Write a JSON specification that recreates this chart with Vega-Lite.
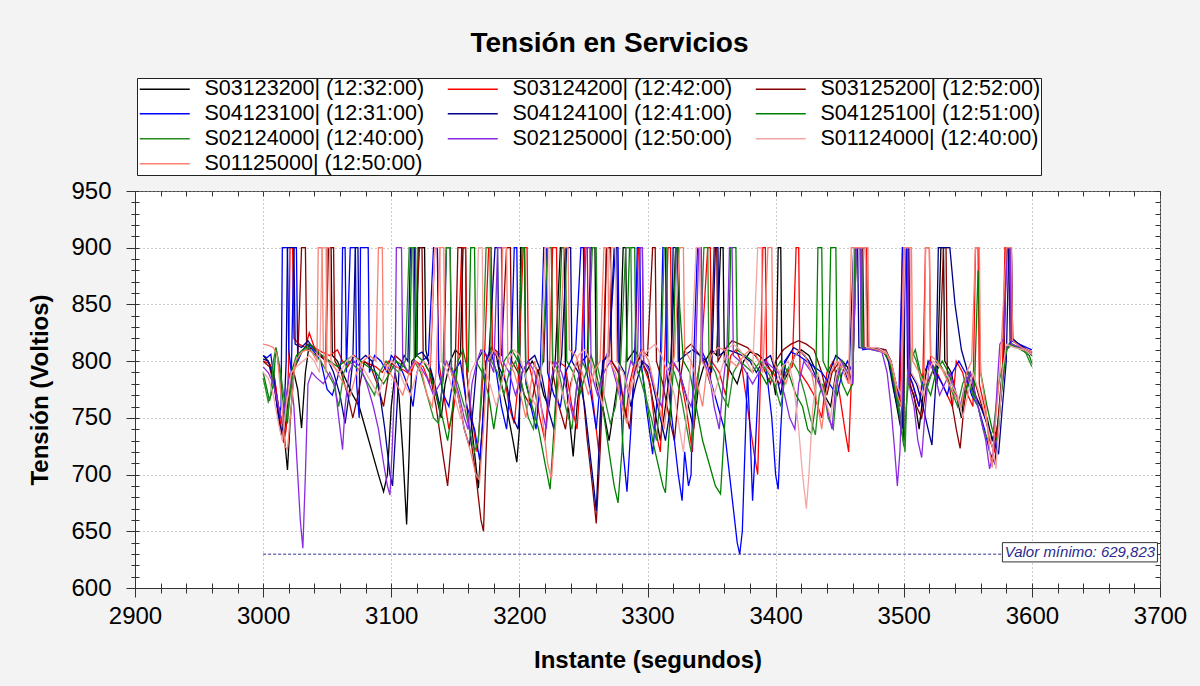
{
  "$schema": "https://vega.github.io/schema/vega-lite/v6.json",
  "width": 1025,
  "height": 397,
  "autosize": {"type": "none"},
  "padding": {"left": 135, "top": 191, "right": 40, "bottom": 98},
  "background": "#f3f3f3",
  "config": {
    "font": "Liberation Sans",
    "view": {"fill": "white", "stroke": "#444", "strokeWidth": 1}
  },
  "title": {
    "text": "Tensión en Servicios",
    "fontSize": 28,
    "fontWeight": "bold",
    "color": "#000",
    "anchor": "middle",
    "dx": -38,
    "offset": 20
  },
  "datasets": {
    "series": [
      {"k": "a", "serie": "S03123200| (12:32:00)"},
      {"k": "b", "serie": "S03124200| (12:42:00)"},
      {"k": "c", "serie": "S03125200| (12:52:00)"},
      {"k": "d", "serie": "S04123100| (12:31:00)"},
      {"k": "e", "serie": "S04124100| (12:41:00)"},
      {"k": "f", "serie": "S04125100| (12:51:00)"},
      {"k": "g", "serie": "S02124000| (12:40:00)"},
      {"k": "h", "serie": "S02125000| (12:50:00)"},
      {"k": "i", "serie": "S01124000| (12:40:00)"},
      {"k": "j", "serie": "S01125000| (12:50:00)"}
    ],
    "minimo": [
      {"v": 629.823, "label": "Valor mínimo: 629,823"}
    ],
    "points": [
      {"k":"a","t":3000,"v":805},{"k":"a","t":3004,"v":800},{"k":"a","t":3008,"v":790},{"k":"a","t":3012,"v":760},{"k":"a","t":3016,"v":740},{"k":"a","t":3019,"v":704},{"k":"a","t":3021,"v":745},{"k":"a","t":3024,"v":790},{"k":"a","t":3027,"v":775},{"k":"a","t":3030,"v":741},
      {"k":"a","t":3033,"v":790},{"k":"a","t":3036,"v":815},{"k":"a","t":3040,"v":812},{"k":"a","t":3045,"v":805},{"k":"a","t":3049,"v":800},{"k":"a","t":3050,"v":900},{"k":"a","t":3053,"v":900},{"k":"a","t":3054,"v":805},{"k":"a","t":3058,"v":800},{"k":"a","t":3062,"v":790},
      {"k":"a","t":3066,"v":780},{"k":"a","t":3070,"v":770},{"k":"a","t":3075,"v":760},{"k":"a","t":3080,"v":740},{"k":"a","t":3085,"v":720},{"k":"a","t":3090,"v":700},{"k":"a","t":3094,"v":685},{"k":"a","t":3097,"v":700},{"k":"a","t":3100,"v":760},{"k":"a","t":3103,"v":790},
      {"k":"a","t":3106,"v":770},{"k":"a","t":3109,"v":720},{"k":"a","t":3112,"v":656},{"k":"a","t":3114,"v":720},{"k":"a","t":3116,"v":800},{"k":"a","t":3120,"v":805},{"k":"a","t":3121,"v":900},{"k":"a","t":3126,"v":900},{"k":"a","t":3127,"v":810},{"k":"a","t":3131,"v":790},
      {"k":"a","t":3135,"v":770},{"k":"a","t":3139,"v":750},{"k":"a","t":3142,"v":780},{"k":"a","t":3146,"v":800},{"k":"a","t":3150,"v":810},{"k":"a","t":3154,"v":805},{"k":"a","t":3156,"v":900},{"k":"a","t":3158,"v":900},{"k":"a","t":3159,"v":790},{"k":"a","t":3163,"v":740},
      {"k":"a","t":3168,"v":688},{"k":"a","t":3171,"v":740},{"k":"a","t":3174,"v":800},{"k":"a","t":3178,"v":812},{"k":"a","t":3182,"v":805},{"k":"a","t":3186,"v":780},{"k":"a","t":3190,"v":760},{"k":"a","t":3195,"v":730},{"k":"a","t":3198,"v":711},{"k":"a","t":3200,"v":740},
      {"k":"a","t":3201,"v":900},{"k":"a","t":3204,"v":900},{"k":"a","t":3205,"v":790},{"k":"a","t":3210,"v":800},{"k":"a","t":3215,"v":790},{"k":"a","t":3219,"v":770},{"k":"a","t":3223,"v":760},{"k":"a","t":3228,"v":800},{"k":"a","t":3232,"v":900},{"k":"a","t":3235,"v":900},
      {"k":"a","t":3236,"v":790},{"k":"a","t":3239,"v":750},{"k":"a","t":3242,"v":716},{"k":"a","t":3245,"v":760},{"k":"a","t":3249,"v":800},{"k":"a","t":3253,"v":805},{"k":"a","t":3256,"v":900},{"k":"a","t":3259,"v":900},{"k":"a","t":3260,"v":780},{"k":"a","t":3265,"v":760},
      {"k":"a","t":3270,"v":730},{"k":"a","t":3274,"v":760},{"k":"a","t":3278,"v":790},{"k":"a","t":3281,"v":900},{"k":"a","t":3283,"v":900},{"k":"a","t":3284,"v":800},{"k":"a","t":3290,"v":810},{"k":"a","t":3295,"v":800},{"k":"a","t":3300,"v":790},{"k":"a","t":3305,"v":760},
      {"k":"a","t":3310,"v":730},{"k":"a","t":3314,"v":760},{"k":"a","t":3318,"v":795},{"k":"a","t":3322,"v":900},{"k":"a","t":3324,"v":900},{"k":"a","t":3325,"v":790},{"k":"a","t":3330,"v":770},{"k":"a","t":3336,"v":740},{"k":"a","t":3340,"v":780},{"k":"a","t":3345,"v":800},
      {"k":"a","t":3350,"v":810},{"k":"a","t":3354,"v":805},{"k":"a","t":3357,"v":900},{"k":"a","t":3359,"v":900},{"k":"a","t":3360,"v":800},{"k":"a","t":3365,"v":790},{"k":"a","t":3370,"v":780},{"k":"a","t":3375,"v":800},{"k":"a","t":3380,"v":808},{"k":"a","t":3386,"v":806},
      {"k":"a","t":3392,"v":800},{"k":"a","t":3397,"v":790},{"k":"a","t":3400,"v":770},{"k":"a","t":3402,"v":900},{"k":"a","t":3404,"v":900},{"k":"a","t":3405,"v":780},{"k":"a","t":3410,"v":790},{"k":"a","t":3415,"v":805},{"k":"a","t":3420,"v":810},{"k":"a","t":3426,"v":805},
      {"k":"a","t":3432,"v":790},{"k":"a","t":3438,"v":770},{"k":"a","t":3443,"v":760},{"k":"a","t":3447,"v":790},{"k":"a","t":3452,"v":800},{"k":"a","t":3456,"v":795},{"k":"a","t":3460,"v":780},{"k":"a","t":3462,"v":900},{"k":"a","t":3470,"v":900},{"k":"a","t":3472,"v":812},
      {"k":"a","t":3480,"v":810},{"k":"a","t":3485,"v":808},{"k":"a","t":3489,"v":800},{"k":"a","t":3493,"v":770},{"k":"a","t":3497,"v":745},{"k":"a","t":3500,"v":730},{"k":"a","t":3501,"v":900},{"k":"a","t":3503,"v":900},{"k":"a","t":3504,"v":780},{"k":"a","t":3508,"v":770},
      {"k":"a","t":3512,"v":740},{"k":"a","t":3516,"v":780},{"k":"a","t":3519,"v":800},{"k":"a","t":3522,"v":795},{"k":"a","t":3526,"v":780},{"k":"a","t":3529,"v":900},{"k":"a","t":3531,"v":900},{"k":"a","t":3532,"v":800},{"k":"a","t":3537,"v":790},{"k":"a","t":3541,"v":770},
      {"k":"a","t":3545,"v":750},{"k":"a","t":3548,"v":780},{"k":"a","t":3552,"v":790},{"k":"a","t":3556,"v":770},{"k":"a","t":3560,"v":760},{"k":"a","t":3565,"v":750},{"k":"a","t":3569,"v":730},{"k":"a","t":3573,"v":740},{"k":"a","t":3576,"v":780},{"k":"a","t":3578,"v":800},
      {"k":"a","t":3580,"v":900},{"k":"a","t":3583,"v":900},{"k":"a","t":3584,"v":820},{"k":"a","t":3590,"v":815},{"k":"a","t":3596,"v":810},{"k":"a","t":3600,"v":805},

      {"k":"b","t":3000,"v":800},{"k":"b","t":3005,"v":798},{"k":"b","t":3009,"v":785},{"k":"b","t":3013,"v":750},{"k":"b","t":3016,"v":728},{"k":"b","t":3018,"v":740},{"k":"b","t":3020,"v":800},{"k":"b","t":3021,"v":900},{"k":"b","t":3023,"v":900},{"k":"b","t":3024,"v":820},
      {"k":"b","t":3028,"v":815},{"k":"b","t":3033,"v":812},{"k":"b","t":3036,"v":825},{"k":"b","t":3040,"v":812},{"k":"b","t":3046,"v":808},{"k":"b","t":3052,"v":805},{"k":"b","t":3058,"v":810},{"k":"b","t":3062,"v":800},{"k":"b","t":3066,"v":795},{"k":"b","t":3071,"v":805},
      {"k":"b","t":3076,"v":800},{"k":"b","t":3082,"v":798},{"k":"b","t":3088,"v":795},{"k":"b","t":3093,"v":790},{"k":"b","t":3098,"v":800},{"k":"b","t":3104,"v":795},{"k":"b","t":3110,"v":792},{"k":"b","t":3115,"v":788},{"k":"b","t":3119,"v":800},{"k":"b","t":3125,"v":795},
      {"k":"b","t":3130,"v":780},{"k":"b","t":3134,"v":900},{"k":"b","t":3136,"v":900},{"k":"b","t":3137,"v":800},{"k":"b","t":3141,"v":770},{"k":"b","t":3145,"v":740},{"k":"b","t":3149,"v":760},{"k":"b","t":3152,"v":800},{"k":"b","t":3155,"v":900},{"k":"b","t":3158,"v":900},
      {"k":"b","t":3159,"v":790},{"k":"b","t":3163,"v":750},{"k":"b","t":3167,"v":720},{"k":"b","t":3170,"v":760},{"k":"b","t":3173,"v":810},{"k":"b","t":3176,"v":900},{"k":"b","t":3178,"v":900},{"k":"b","t":3179,"v":810},{"k":"b","t":3184,"v":805},{"k":"b","t":3188,"v":790},
      {"k":"b","t":3192,"v":760},{"k":"b","t":3196,"v":745},{"k":"b","t":3199,"v":780},{"k":"b","t":3203,"v":900},{"k":"b","t":3206,"v":900},{"k":"b","t":3207,"v":800},{"k":"b","t":3211,"v":780},{"k":"b","t":3216,"v":750},{"k":"b","t":3220,"v":730},{"k":"b","t":3223,"v":780},
      {"k":"b","t":3226,"v":900},{"k":"b","t":3229,"v":900},{"k":"b","t":3230,"v":800},{"k":"b","t":3236,"v":795},{"k":"b","t":3241,"v":760},{"k":"b","t":3245,"v":740},{"k":"b","t":3248,"v":790},{"k":"b","t":3251,"v":900},{"k":"b","t":3253,"v":900},{"k":"b","t":3254,"v":795},
      {"k":"b","t":3258,"v":760},{"k":"b","t":3262,"v":720},{"k":"b","t":3265,"v":790},{"k":"b","t":3268,"v":900},{"k":"b","t":3271,"v":900},{"k":"b","t":3272,"v":800},{"k":"b","t":3278,"v":790},{"k":"b","t":3283,"v":750},{"k":"b","t":3286,"v":780},{"k":"b","t":3290,"v":800},
      {"k":"b","t":3293,"v":900},{"k":"b","t":3296,"v":900},{"k":"b","t":3297,"v":795},{"k":"b","t":3302,"v":780},{"k":"b","t":3306,"v":740},{"k":"b","t":3310,"v":720},{"k":"b","t":3313,"v":790},{"k":"b","t":3316,"v":900},{"k":"b","t":3318,"v":900},{"k":"b","t":3319,"v":800},
      {"k":"b","t":3325,"v":790},{"k":"b","t":3330,"v":760},{"k":"b","t":3335,"v":720},{"k":"b","t":3338,"v":780},{"k":"b","t":3342,"v":805},{"k":"b","t":3347,"v":900},{"k":"b","t":3349,"v":900},{"k":"b","t":3350,"v":800},{"k":"b","t":3356,"v":790},{"k":"b","t":3361,"v":770},
      {"k":"b","t":3365,"v":805},{"k":"b","t":3369,"v":810},{"k":"b","t":3373,"v":800},{"k":"b","t":3378,"v":760},{"k":"b","t":3383,"v":720},{"k":"b","t":3386,"v":700},{"k":"b","t":3388,"v":780},{"k":"b","t":3390,"v":900},{"k":"b","t":3392,"v":900},{"k":"b","t":3393,"v":795},
      {"k":"b","t":3398,"v":790},{"k":"b","t":3403,"v":780},{"k":"b","t":3408,"v":790},{"k":"b","t":3413,"v":795},{"k":"b","t":3416,"v":900},{"k":"b","t":3418,"v":900},{"k":"b","t":3419,"v":790},{"k":"b","t":3425,"v":780},{"k":"b","t":3430,"v":770},{"k":"b","t":3436,"v":750},
      {"k":"b","t":3440,"v":790},{"k":"b","t":3445,"v":800},{"k":"b","t":3450,"v":770},{"k":"b","t":3454,"v":740},{"k":"b","t":3457,"v":720},{"k":"b","t":3459,"v":780},{"k":"b","t":3461,"v":900},{"k":"b","t":3471,"v":900},{"k":"b","t":3472,"v":812},{"k":"b","t":3480,"v":811},
      {"k":"b","t":3486,"v":808},{"k":"b","t":3490,"v":800},{"k":"b","t":3494,"v":780},{"k":"b","t":3497,"v":760},{"k":"b","t":3499,"v":900},{"k":"b","t":3503,"v":900},{"k":"b","t":3504,"v":790},{"k":"b","t":3508,"v":775},{"k":"b","t":3512,"v":760},{"k":"b","t":3515,"v":790},
      {"k":"b","t":3517,"v":900},{"k":"b","t":3520,"v":900},{"k":"b","t":3521,"v":800},{"k":"b","t":3526,"v":790},{"k":"b","t":3530,"v":780},{"k":"b","t":3534,"v":770},{"k":"b","t":3538,"v":760},{"k":"b","t":3541,"v":800},{"k":"b","t":3546,"v":790},{"k":"b","t":3550,"v":770},
      {"k":"b","t":3554,"v":760},{"k":"b","t":3556,"v":900},{"k":"b","t":3558,"v":900},{"k":"b","t":3559,"v":780},{"k":"b","t":3563,"v":760},{"k":"b","t":3567,"v":730},{"k":"b","t":3571,"v":720},{"k":"b","t":3574,"v":750},{"k":"b","t":3577,"v":790},{"k":"b","t":3579,"v":900},
      {"k":"b","t":3584,"v":900},{"k":"b","t":3585,"v":818},{"k":"b","t":3592,"v":812},{"k":"b","t":3600,"v":808},

      {"k":"c","t":3000,"v":800},{"k":"c","t":3005,"v":795},{"k":"c","t":3009,"v":775},{"k":"c","t":3013,"v":745},{"k":"c","t":3016,"v":730},{"k":"c","t":3019,"v":760},{"k":"c","t":3023,"v":790},{"k":"c","t":3027,"v":800},{"k":"c","t":3030,"v":900},{"k":"c","t":3033,"v":900},
      {"k":"c","t":3034,"v":810},{"k":"c","t":3039,"v":812},{"k":"c","t":3044,"v":805},{"k":"c","t":3049,"v":800},{"k":"c","t":3051,"v":900},{"k":"c","t":3055,"v":900},{"k":"c","t":3056,"v":800},{"k":"c","t":3061,"v":790},{"k":"c","t":3066,"v":770},{"k":"c","t":3070,"v":750},
      {"k":"c","t":3074,"v":770},{"k":"c","t":3079,"v":800},{"k":"c","t":3084,"v":795},{"k":"c","t":3089,"v":780},{"k":"c","t":3094,"v":760},{"k":"c","t":3098,"v":790},{"k":"c","t":3103,"v":805},{"k":"c","t":3108,"v":800},{"k":"c","t":3113,"v":790},{"k":"c","t":3118,"v":800},
      {"k":"c","t":3122,"v":900},{"k":"c","t":3124,"v":900},{"k":"c","t":3125,"v":800},{"k":"c","t":3130,"v":790},{"k":"c","t":3135,"v":760},{"k":"c","t":3140,"v":720},{"k":"c","t":3144,"v":690},{"k":"c","t":3147,"v":730},{"k":"c","t":3150,"v":800},{"k":"c","t":3152,"v":900},
      {"k":"c","t":3155,"v":900},{"k":"c","t":3156,"v":790},{"k":"c","t":3161,"v":740},{"k":"c","t":3166,"v":700},{"k":"c","t":3170,"v":660},{"k":"c","t":3172,"v":650},{"k":"c","t":3174,"v":720},{"k":"c","t":3177,"v":800},{"k":"c","t":3181,"v":810},{"k":"c","t":3186,"v":805},
      {"k":"c","t":3190,"v":900},{"k":"c","t":3193,"v":900},{"k":"c","t":3194,"v":800},{"k":"c","t":3199,"v":790},{"k":"c","t":3204,"v":770},{"k":"c","t":3209,"v":760},{"k":"c","t":3214,"v":790},{"k":"c","t":3219,"v":800},{"k":"c","t":3222,"v":900},{"k":"c","t":3225,"v":900},
      {"k":"c","t":3226,"v":790},{"k":"c","t":3231,"v":760},{"k":"c","t":3236,"v":740},{"k":"c","t":3240,"v":780},{"k":"c","t":3245,"v":800},{"k":"c","t":3249,"v":780},{"k":"c","t":3253,"v":730},{"k":"c","t":3257,"v":690},{"k":"c","t":3260,"v":657},{"k":"c","t":3263,"v":720},
      {"k":"c","t":3266,"v":800},{"k":"c","t":3268,"v":900},{"k":"c","t":3271,"v":900},{"k":"c","t":3272,"v":800},{"k":"c","t":3277,"v":790},{"k":"c","t":3282,"v":760},{"k":"c","t":3286,"v":740},{"k":"c","t":3290,"v":790},{"k":"c","t":3295,"v":810},{"k":"c","t":3300,"v":805},
      {"k":"c","t":3304,"v":900},{"k":"c","t":3306,"v":900},{"k":"c","t":3307,"v":800},{"k":"c","t":3312,"v":780},{"k":"c","t":3317,"v":750},{"k":"c","t":3321,"v":730},{"k":"c","t":3325,"v":780},{"k":"c","t":3329,"v":810},{"k":"c","t":3334,"v":815},{"k":"c","t":3339,"v":808},
      {"k":"c","t":3344,"v":800},{"k":"c","t":3349,"v":780},{"k":"c","t":3352,"v":900},{"k":"c","t":3354,"v":900},{"k":"c","t":3355,"v":800},{"k":"c","t":3360,"v":810},{"k":"c","t":3366,"v":818},{"k":"c","t":3372,"v":815},{"k":"c","t":3378,"v":812},{"k":"c","t":3384,"v":805},
      {"k":"c","t":3390,"v":795},{"k":"c","t":3396,"v":780},{"k":"c","t":3400,"v":800},{"k":"c","t":3406,"v":810},{"k":"c","t":3412,"v":815},{"k":"c","t":3418,"v":818},{"k":"c","t":3424,"v":815},{"k":"c","t":3430,"v":810},{"k":"c","t":3436,"v":790},{"k":"c","t":3440,"v":770},
      {"k":"c","t":3444,"v":790},{"k":"c","t":3450,"v":800},{"k":"c","t":3455,"v":790},{"k":"c","t":3460,"v":780},{"k":"c","t":3463,"v":900},{"k":"c","t":3468,"v":900},{"k":"c","t":3469,"v":812},{"k":"c","t":3478,"v":812},{"k":"c","t":3486,"v":810},{"k":"c","t":3490,"v":800},
      {"k":"c","t":3494,"v":780},{"k":"c","t":3498,"v":760},{"k":"c","t":3501,"v":900},{"k":"c","t":3504,"v":900},{"k":"c","t":3505,"v":780},{"k":"c","t":3510,"v":760},{"k":"c","t":3514,"v":750},{"k":"c","t":3518,"v":780},{"k":"c","t":3522,"v":790},{"k":"c","t":3528,"v":800},
      {"k":"c","t":3531,"v":900},{"k":"c","t":3533,"v":900},{"k":"c","t":3534,"v":790},{"k":"c","t":3538,"v":760},{"k":"c","t":3541,"v":740},{"k":"c","t":3544,"v":723},{"k":"c","t":3547,"v":760},{"k":"c","t":3551,"v":790},{"k":"c","t":3556,"v":780},{"k":"c","t":3561,"v":760},
      {"k":"c","t":3566,"v":740},{"k":"c","t":3570,"v":720},{"k":"c","t":3574,"v":750},{"k":"c","t":3578,"v":790},{"k":"c","t":3580,"v":900},{"k":"c","t":3582,"v":900},{"k":"c","t":3583,"v":815},{"k":"c","t":3590,"v":812},{"k":"c","t":3600,"v":806},

      {"k":"d","t":3000,"v":805},{"k":"d","t":3003,"v":803},{"k":"d","t":3006,"v":806},{"k":"d","t":3009,"v":780},{"k":"d","t":3012,"v":750},{"k":"d","t":3014,"v":760},{"k":"d","t":3015,"v":900},{"k":"d","t":3019,"v":900},{"k":"d","t":3020,"v":810},{"k":"d","t":3022,"v":790},
      {"k":"d","t":3024,"v":900},{"k":"d","t":3026,"v":900},{"k":"d","t":3027,"v":800},{"k":"d","t":3031,"v":810},{"k":"d","t":3035,"v":815},{"k":"d","t":3040,"v":808},{"k":"d","t":3045,"v":800},{"k":"d","t":3050,"v":775},{"k":"d","t":3054,"v":770},{"k":"d","t":3058,"v":785},
      {"k":"d","t":3061,"v":800},{"k":"d","t":3062,"v":900},{"k":"d","t":3064,"v":900},{"k":"d","t":3065,"v":790},{"k":"d","t":3068,"v":900},{"k":"d","t":3072,"v":900},{"k":"d","t":3073,"v":780},{"k":"d","t":3075,"v":750},{"k":"d","t":3076,"v":900},{"k":"d","t":3082,"v":900},
      {"k":"d","t":3083,"v":790},{"k":"d","t":3087,"v":805},{"k":"d","t":3092,"v":800},{"k":"d","t":3097,"v":790},{"k":"d","t":3100,"v":805},{"k":"d","t":3104,"v":800},{"k":"d","t":3109,"v":790},{"k":"d","t":3114,"v":775},{"k":"d","t":3117,"v":760},{"k":"d","t":3120,"v":790},
      {"k":"d","t":3124,"v":800},{"k":"d","t":3129,"v":805},{"k":"d","t":3133,"v":900},{"k":"d","t":3136,"v":900},{"k":"d","t":3137,"v":790},{"k":"d","t":3141,"v":770},{"k":"d","t":3145,"v":760},{"k":"d","t":3149,"v":790},{"k":"d","t":3154,"v":800},{"k":"d","t":3159,"v":760},
      {"k":"d","t":3165,"v":740},{"k":"d","t":3169,"v":713},{"k":"d","t":3171,"v":740},{"k":"d","t":3174,"v":800},{"k":"d","t":3178,"v":808},{"k":"d","t":3182,"v":790},{"k":"d","t":3186,"v":760},{"k":"d","t":3190,"v":740},{"k":"d","t":3193,"v":780},{"k":"d","t":3196,"v":900},
      {"k":"d","t":3198,"v":900},{"k":"d","t":3199,"v":800},{"k":"d","t":3204,"v":790},{"k":"d","t":3209,"v":760},{"k":"d","t":3213,"v":740},{"k":"d","t":3216,"v":780},{"k":"d","t":3219,"v":900},{"k":"d","t":3221,"v":900},{"k":"d","t":3222,"v":790},{"k":"d","t":3227,"v":770},
      {"k":"d","t":3232,"v":760},{"k":"d","t":3236,"v":790},{"k":"d","t":3240,"v":800},{"k":"d","t":3244,"v":810},{"k":"d","t":3248,"v":900},{"k":"d","t":3250,"v":900},{"k":"d","t":3251,"v":800},{"k":"d","t":3256,"v":770},{"k":"d","t":3260,"v":740},{"k":"d","t":3263,"v":780},
      {"k":"d","t":3266,"v":800},{"k":"d","t":3270,"v":810},{"k":"d","t":3275,"v":900},{"k":"d","t":3277,"v":900},{"k":"d","t":3278,"v":790},{"k":"d","t":3281,"v":720},{"k":"d","t":3284,"v":685},{"k":"d","t":3287,"v":740},{"k":"d","t":3290,"v":800},{"k":"d","t":3292,"v":900},
      {"k":"d","t":3294,"v":900},{"k":"d","t":3295,"v":800},{"k":"d","t":3299,"v":760},{"k":"d","t":3304,"v":718},{"k":"d","t":3307,"v":760},{"k":"d","t":3310,"v":800},{"k":"d","t":3312,"v":900},{"k":"d","t":3314,"v":900},{"k":"d","t":3315,"v":790},{"k":"d","t":3320,"v":740},
      {"k":"d","t":3324,"v":700},{"k":"d","t":3327,"v":677},{"k":"d","t":3329,"v":720},{"k":"d","t":3332,"v":690},{"k":"d","t":3334,"v":700},{"k":"d","t":3336,"v":800},{"k":"d","t":3339,"v":900},{"k":"d","t":3341,"v":900},{"k":"d","t":3342,"v":810},{"k":"d","t":3346,"v":800},
      {"k":"d","t":3350,"v":780},{"k":"d","t":3355,"v":760},{"k":"d","t":3360,"v":740},{"k":"d","t":3364,"v":700},{"k":"d","t":3367,"v":670},{"k":"d","t":3370,"v":640},{"k":"d","t":3372,"v":629.823},{"k":"d","t":3374,"v":650},{"k":"d","t":3376,"v":720},{"k":"d","t":3378,"v":790},
      {"k":"d","t":3380,"v":740},{"k":"d","t":3382,"v":677},{"k":"d","t":3384,"v":720},{"k":"d","t":3387,"v":790},{"k":"d","t":3392,"v":800},{"k":"d","t":3397,"v":750},{"k":"d","t":3400,"v":700},{"k":"d","t":3402,"v":687},{"k":"d","t":3404,"v":740},{"k":"d","t":3407,"v":800},
      {"k":"d","t":3412,"v":808},{"k":"d","t":3418,"v":805},{"k":"d","t":3424,"v":800},{"k":"d","t":3430,"v":795},{"k":"d","t":3436,"v":790},{"k":"d","t":3442,"v":780},{"k":"d","t":3448,"v":770},{"k":"d","t":3452,"v":790},{"k":"d","t":3456,"v":800},{"k":"d","t":3460,"v":790},
      {"k":"d","t":3462,"v":900},{"k":"d","t":3467,"v":900},{"k":"d","t":3468,"v":810},{"k":"d","t":3478,"v":812},{"k":"d","t":3486,"v":808},{"k":"d","t":3490,"v":800},{"k":"d","t":3493,"v":780},{"k":"d","t":3496,"v":760},{"k":"d","t":3499,"v":900},{"k":"d","t":3502,"v":900},
      {"k":"d","t":3503,"v":790},{"k":"d","t":3507,"v":780},{"k":"d","t":3512,"v":760},{"k":"d","t":3516,"v":790},{"k":"d","t":3520,"v":800},{"k":"d","t":3525,"v":790},{"k":"d","t":3530,"v":780},{"k":"d","t":3534,"v":770},{"k":"d","t":3538,"v":790},{"k":"d","t":3543,"v":800},
      {"k":"d","t":3548,"v":790},{"k":"d","t":3553,"v":770},{"k":"d","t":3558,"v":760},{"k":"d","t":3563,"v":740},{"k":"d","t":3567,"v":720},{"k":"d","t":3571,"v":710},{"k":"d","t":3574,"v":740},{"k":"d","t":3577,"v":790},{"k":"d","t":3580,"v":810},{"k":"d","t":3584,"v":818},
      {"k":"d","t":3590,"v":815},{"k":"d","t":3600,"v":810},

      {"k":"e","t":3000,"v":802},{"k":"e","t":3004,"v":800},{"k":"e","t":3008,"v":785},{"k":"e","t":3011,"v":760},{"k":"e","t":3014,"v":735},{"k":"e","t":3016,"v":745},{"k":"e","t":3018,"v":800},{"k":"e","t":3019,"v":900},{"k":"e","t":3024,"v":900},{"k":"e","t":3025,"v":815},
      {"k":"e","t":3030,"v":812},{"k":"e","t":3035,"v":818},{"k":"e","t":3040,"v":810},{"k":"e","t":3046,"v":805},{"k":"e","t":3051,"v":800},{"k":"e","t":3055,"v":790},{"k":"e","t":3060,"v":770},{"k":"e","t":3064,"v":745},{"k":"e","t":3067,"v":770},{"k":"e","t":3070,"v":800},
      {"k":"e","t":3072,"v":900},{"k":"e","t":3074,"v":900},{"k":"e","t":3075,"v":800},{"k":"e","t":3080,"v":805},{"k":"e","t":3085,"v":800},{"k":"e","t":3090,"v":780},{"k":"e","t":3095,"v":740},{"k":"e","t":3099,"v":700},{"k":"e","t":3101,"v":690},{"k":"e","t":3103,"v":730},
      {"k":"e","t":3106,"v":790},{"k":"e","t":3110,"v":805},{"k":"e","t":3113,"v":800},{"k":"e","t":3115,"v":900},{"k":"e","t":3118,"v":900},{"k":"e","t":3119,"v":805},{"k":"e","t":3124,"v":808},{"k":"e","t":3129,"v":800},{"k":"e","t":3134,"v":780},{"k":"e","t":3138,"v":760},
      {"k":"e","t":3141,"v":790},{"k":"e","t":3143,"v":900},{"k":"e","t":3146,"v":900},{"k":"e","t":3147,"v":790},{"k":"e","t":3152,"v":770},{"k":"e","t":3157,"v":740},{"k":"e","t":3161,"v":725},{"k":"e","t":3164,"v":760},{"k":"e","t":3167,"v":800},{"k":"e","t":3172,"v":810},
      {"k":"e","t":3176,"v":800},{"k":"e","t":3181,"v":900},{"k":"e","t":3183,"v":900},{"k":"e","t":3184,"v":795},{"k":"e","t":3190,"v":780},{"k":"e","t":3195,"v":750},{"k":"e","t":3199,"v":740},{"k":"e","t":3202,"v":790},{"k":"e","t":3207,"v":800},{"k":"e","t":3212,"v":805},
      {"k":"e","t":3217,"v":790},{"k":"e","t":3222,"v":760},{"k":"e","t":3227,"v":740},{"k":"e","t":3230,"v":780},{"k":"e","t":3233,"v":805},{"k":"e","t":3237,"v":900},{"k":"e","t":3240,"v":900},{"k":"e","t":3241,"v":800},{"k":"e","t":3246,"v":790},{"k":"e","t":3251,"v":760},
      {"k":"e","t":3255,"v":720},{"k":"e","t":3258,"v":690},{"k":"e","t":3260,"v":668},{"k":"e","t":3262,"v":720},{"k":"e","t":3265,"v":800},{"k":"e","t":3270,"v":805},{"k":"e","t":3274,"v":900},{"k":"e","t":3276,"v":900},{"k":"e","t":3277,"v":800},{"k":"e","t":3282,"v":790},
      {"k":"e","t":3287,"v":760},{"k":"e","t":3291,"v":780},{"k":"e","t":3296,"v":800},{"k":"e","t":3301,"v":795},{"k":"e","t":3306,"v":770},{"k":"e","t":3310,"v":750},{"k":"e","t":3314,"v":730},{"k":"e","t":3318,"v":760},{"k":"e","t":3320,"v":900},{"k":"e","t":3323,"v":900},
      {"k":"e","t":3324,"v":800},{"k":"e","t":3329,"v":805},{"k":"e","t":3335,"v":810},{"k":"e","t":3341,"v":805},{"k":"e","t":3346,"v":800},{"k":"e","t":3350,"v":790},{"k":"e","t":3353,"v":900},{"k":"e","t":3355,"v":900},{"k":"e","t":3356,"v":805},{"k":"e","t":3362,"v":810},
      {"k":"e","t":3368,"v":808},{"k":"e","t":3374,"v":805},{"k":"e","t":3380,"v":800},{"k":"e","t":3385,"v":790},{"k":"e","t":3390,"v":800},{"k":"e","t":3396,"v":805},{"k":"e","t":3400,"v":790},{"k":"e","t":3404,"v":770},{"k":"e","t":3408,"v":800},{"k":"e","t":3414,"v":812},
      {"k":"e","t":3420,"v":808},{"k":"e","t":3426,"v":800},{"k":"e","t":3432,"v":785},{"k":"e","t":3438,"v":770},{"k":"e","t":3442,"v":790},{"k":"e","t":3447,"v":805},{"k":"e","t":3452,"v":800},{"k":"e","t":3457,"v":780},{"k":"e","t":3461,"v":900},{"k":"e","t":3464,"v":900},
      {"k":"e","t":3465,"v":812},{"k":"e","t":3475,"v":811},{"k":"e","t":3484,"v":810},{"k":"e","t":3488,"v":800},{"k":"e","t":3492,"v":775},{"k":"e","t":3496,"v":755},{"k":"e","t":3499,"v":740},{"k":"e","t":3501,"v":900},{"k":"e","t":3504,"v":900},{"k":"e","t":3505,"v":790},
      {"k":"e","t":3510,"v":780},{"k":"e","t":3515,"v":760},{"k":"e","t":3519,"v":740},{"k":"e","t":3522,"v":726},{"k":"e","t":3525,"v":780},{"k":"e","t":3527,"v":900},{"k":"e","t":3536,"v":900},{"k":"e","t":3540,"v":850},{"k":"e","t":3545,"v":810},{"k":"e","t":3550,"v":790},
      {"k":"e","t":3555,"v":770},{"k":"e","t":3560,"v":760},{"k":"e","t":3565,"v":745},{"k":"e","t":3570,"v":730},{"k":"e","t":3574,"v":718},{"k":"e","t":3577,"v":760},{"k":"e","t":3580,"v":800},{"k":"e","t":3582,"v":900},{"k":"e","t":3584,"v":900},{"k":"e","t":3585,"v":820},
      {"k":"e","t":3592,"v":812},{"k":"e","t":3600,"v":808},

      {"k":"f","t":3000,"v":790},{"k":"f","t":3003,"v":775},{"k":"f","t":3005,"v":765},{"k":"f","t":3008,"v":780},{"k":"f","t":3010,"v":812},{"k":"f","t":3013,"v":790},{"k":"f","t":3016,"v":760},{"k":"f","t":3019,"v":745},{"k":"f","t":3022,"v":790},{"k":"f","t":3026,"v":805},
      {"k":"f","t":3031,"v":810},{"k":"f","t":3036,"v":815},{"k":"f","t":3041,"v":810},{"k":"f","t":3046,"v":805},{"k":"f","t":3052,"v":800},{"k":"f","t":3058,"v":795},{"k":"f","t":3064,"v":800},{"k":"f","t":3070,"v":805},{"k":"f","t":3076,"v":800},{"k":"f","t":3082,"v":795},
      {"k":"f","t":3088,"v":790},{"k":"f","t":3094,"v":780},{"k":"f","t":3099,"v":790},{"k":"f","t":3104,"v":800},{"k":"f","t":3110,"v":795},{"k":"f","t":3114,"v":790},{"k":"f","t":3116,"v":900},{"k":"f","t":3119,"v":900},{"k":"f","t":3120,"v":805},{"k":"f","t":3125,"v":800},
      {"k":"f","t":3130,"v":790},{"k":"f","t":3135,"v":770},{"k":"f","t":3140,"v":750},{"k":"f","t":3144,"v":730},{"k":"f","t":3148,"v":760},{"k":"f","t":3152,"v":800},{"k":"f","t":3156,"v":810},{"k":"f","t":3160,"v":790},{"k":"f","t":3162,"v":900},{"k":"f","t":3165,"v":900},
      {"k":"f","t":3166,"v":800},{"k":"f","t":3171,"v":790},{"k":"f","t":3176,"v":770},{"k":"f","t":3180,"v":740},{"k":"f","t":3184,"v":770},{"k":"f","t":3188,"v":800},{"k":"f","t":3194,"v":810},{"k":"f","t":3199,"v":800},{"k":"f","t":3202,"v":900},{"k":"f","t":3204,"v":900},
      {"k":"f","t":3205,"v":780},{"k":"f","t":3210,"v":760},{"k":"f","t":3215,"v":740},{"k":"f","t":3220,"v":710},{"k":"f","t":3224,"v":687},{"k":"f","t":3227,"v":740},{"k":"f","t":3230,"v":800},{"k":"f","t":3233,"v":900},{"k":"f","t":3236,"v":900},{"k":"f","t":3237,"v":800},
      {"k":"f","t":3242,"v":790},{"k":"f","t":3247,"v":770},{"k":"f","t":3252,"v":790},{"k":"f","t":3256,"v":805},{"k":"f","t":3260,"v":790},{"k":"f","t":3265,"v":760},{"k":"f","t":3270,"v":720},{"k":"f","t":3274,"v":690},{"k":"f","t":3277,"v":675},{"k":"f","t":3280,"v":720},
      {"k":"f","t":3283,"v":790},{"k":"f","t":3286,"v":900},{"k":"f","t":3290,"v":900},{"k":"f","t":3291,"v":800},{"k":"f","t":3296,"v":790},{"k":"f","t":3300,"v":760},{"k":"f","t":3304,"v":730},{"k":"f","t":3308,"v":710},{"k":"f","t":3312,"v":690},{"k":"f","t":3314,"v":684},
      {"k":"f","t":3317,"v":740},{"k":"f","t":3320,"v":790},{"k":"f","t":3322,"v":900},{"k":"f","t":3324,"v":900},{"k":"f","t":3325,"v":850},{"k":"f","t":3328,"v":800},{"k":"f","t":3333,"v":790},{"k":"f","t":3338,"v":760},{"k":"f","t":3343,"v":730},{"k":"f","t":3348,"v":710},
      {"k":"f","t":3353,"v":690},{"k":"f","t":3357,"v":683},{"k":"f","t":3360,"v":740},{"k":"f","t":3363,"v":800},{"k":"f","t":3365,"v":900},{"k":"f","t":3369,"v":900},{"k":"f","t":3370,"v":810},{"k":"f","t":3376,"v":805},{"k":"f","t":3382,"v":800},{"k":"f","t":3388,"v":790},
      {"k":"f","t":3393,"v":780},{"k":"f","t":3398,"v":790},{"k":"f","t":3404,"v":800},{"k":"f","t":3410,"v":790},{"k":"f","t":3416,"v":770},{"k":"f","t":3421,"v":760},{"k":"f","t":3425,"v":740},{"k":"f","t":3428,"v":736},{"k":"f","t":3431,"v":760},{"k":"f","t":3433,"v":900},
      {"k":"f","t":3436,"v":900},{"k":"f","t":3437,"v":800},{"k":"f","t":3441,"v":790},{"k":"f","t":3443,"v":900},{"k":"f","t":3447,"v":900},{"k":"f","t":3448,"v":800},{"k":"f","t":3452,"v":780},{"k":"f","t":3456,"v":770},{"k":"f","t":3460,"v":780},{"k":"f","t":3462,"v":900},
      {"k":"f","t":3466,"v":900},{"k":"f","t":3467,"v":812},{"k":"f","t":3476,"v":810},{"k":"f","t":3484,"v":808},{"k":"f","t":3489,"v":800},{"k":"f","t":3493,"v":775},{"k":"f","t":3497,"v":750},{"k":"f","t":3500,"v":725},{"k":"f","t":3502,"v":760},{"k":"f","t":3505,"v":800},
      {"k":"f","t":3509,"v":810},{"k":"f","t":3513,"v":790},{"k":"f","t":3517,"v":780},{"k":"f","t":3521,"v":770},{"k":"f","t":3525,"v":790},{"k":"f","t":3530,"v":800},{"k":"f","t":3535,"v":790},{"k":"f","t":3540,"v":770},{"k":"f","t":3545,"v":760},{"k":"f","t":3550,"v":780},
      {"k":"f","t":3555,"v":770},{"k":"f","t":3558,"v":880},{"k":"f","t":3560,"v":790},{"k":"f","t":3565,"v":760},{"k":"f","t":3569,"v":740},{"k":"f","t":3573,"v":730},{"k":"f","t":3576,"v":770},{"k":"f","t":3580,"v":810},{"k":"f","t":3585,"v":815},{"k":"f","t":3592,"v":810},
      {"k":"f","t":3598,"v":805},{"k":"f","t":3600,"v":798},

      {"k":"g","t":3000,"v":785},{"k":"g","t":3002,"v":775},{"k":"g","t":3004,"v":764},{"k":"g","t":3006,"v":770},{"k":"g","t":3008,"v":800},{"k":"g","t":3010,"v":812},{"k":"g","t":3013,"v":795},{"k":"g","t":3016,"v":770},{"k":"g","t":3019,"v":750},{"k":"g","t":3022,"v":780},
      {"k":"g","t":3026,"v":800},{"k":"g","t":3030,"v":808},{"k":"g","t":3035,"v":812},{"k":"g","t":3040,"v":806},{"k":"g","t":3045,"v":800},{"k":"g","t":3050,"v":790},{"k":"g","t":3055,"v":780},{"k":"g","t":3059,"v":760},{"k":"g","t":3063,"v":790},{"k":"g","t":3067,"v":800},
      {"k":"g","t":3072,"v":795},{"k":"g","t":3077,"v":790},{"k":"g","t":3082,"v":780},{"k":"g","t":3087,"v":770},{"k":"g","t":3091,"v":790},{"k":"g","t":3096,"v":800},{"k":"g","t":3101,"v":795},{"k":"g","t":3106,"v":790},{"k":"g","t":3111,"v":800},{"k":"g","t":3114,"v":900},
      {"k":"g","t":3117,"v":900},{"k":"g","t":3118,"v":800},{"k":"g","t":3123,"v":790},{"k":"g","t":3128,"v":770},{"k":"g","t":3133,"v":750},{"k":"g","t":3137,"v":745},{"k":"g","t":3140,"v":780},{"k":"g","t":3143,"v":900},{"k":"g","t":3146,"v":900},{"k":"g","t":3147,"v":795},
      {"k":"g","t":3152,"v":780},{"k":"g","t":3157,"v":760},{"k":"g","t":3161,"v":740},{"k":"g","t":3165,"v":720},{"k":"g","t":3168,"v":730},{"k":"g","t":3171,"v":790},{"k":"g","t":3174,"v":900},{"k":"g","t":3177,"v":900},{"k":"g","t":3178,"v":800},{"k":"g","t":3183,"v":790},
      {"k":"g","t":3188,"v":770},{"k":"g","t":3192,"v":790},{"k":"g","t":3197,"v":800},{"k":"g","t":3202,"v":780},{"k":"g","t":3207,"v":750},{"k":"g","t":3211,"v":740},{"k":"g","t":3214,"v":770},{"k":"g","t":3218,"v":800},{"k":"g","t":3222,"v":900},{"k":"g","t":3225,"v":900},
      {"k":"g","t":3226,"v":800},{"k":"g","t":3231,"v":790},{"k":"g","t":3236,"v":760},{"k":"g","t":3241,"v":740},{"k":"g","t":3245,"v":780},{"k":"g","t":3249,"v":800},{"k":"g","t":3253,"v":790},{"k":"g","t":3257,"v":900},{"k":"g","t":3260,"v":900},{"k":"g","t":3261,"v":795},
      {"k":"g","t":3266,"v":770},{"k":"g","t":3271,"v":745},{"k":"g","t":3275,"v":760},{"k":"g","t":3279,"v":800},{"k":"g","t":3283,"v":900},{"k":"g","t":3287,"v":900},{"k":"g","t":3288,"v":800},{"k":"g","t":3293,"v":790},{"k":"g","t":3298,"v":770},{"k":"g","t":3303,"v":750},
      {"k":"g","t":3307,"v":730},{"k":"g","t":3310,"v":770},{"k":"g","t":3313,"v":900},{"k":"g","t":3315,"v":900},{"k":"g","t":3316,"v":800},{"k":"g","t":3321,"v":790},{"k":"g","t":3326,"v":770},{"k":"g","t":3330,"v":745},{"k":"g","t":3334,"v":720},{"k":"g","t":3337,"v":760},
      {"k":"g","t":3341,"v":800},{"k":"g","t":3344,"v":900},{"k":"g","t":3347,"v":900},{"k":"g","t":3348,"v":800},{"k":"g","t":3353,"v":790},{"k":"g","t":3358,"v":770},{"k":"g","t":3363,"v":760},{"k":"g","t":3367,"v":790},{"k":"g","t":3372,"v":800},{"k":"g","t":3377,"v":795},
      {"k":"g","t":3382,"v":790},{"k":"g","t":3388,"v":800},{"k":"g","t":3394,"v":790},{"k":"g","t":3399,"v":780},{"k":"g","t":3404,"v":760},{"k":"g","t":3408,"v":790},{"k":"g","t":3413,"v":800},{"k":"g","t":3418,"v":790},{"k":"g","t":3423,"v":770},{"k":"g","t":3427,"v":750},
      {"k":"g","t":3431,"v":735},{"k":"g","t":3434,"v":770},{"k":"g","t":3437,"v":780},{"k":"g","t":3441,"v":750},{"k":"g","t":3445,"v":740},{"k":"g","t":3448,"v":780},{"k":"g","t":3452,"v":800},{"k":"g","t":3456,"v":790},{"k":"g","t":3460,"v":780},{"k":"g","t":3463,"v":900},
      {"k":"g","t":3467,"v":900},{"k":"g","t":3468,"v":812},{"k":"g","t":3478,"v":810},{"k":"g","t":3486,"v":808},{"k":"g","t":3490,"v":798},{"k":"g","t":3494,"v":775},{"k":"g","t":3497,"v":755},{"k":"g","t":3499,"v":735},{"k":"g","t":3501,"v":720},{"k":"g","t":3503,"v":790},
      {"k":"g","t":3506,"v":810},{"k":"g","t":3510,"v":800},{"k":"g","t":3514,"v":780},{"k":"g","t":3518,"v":775},{"k":"g","t":3522,"v":790},{"k":"g","t":3527,"v":800},{"k":"g","t":3532,"v":790},{"k":"g","t":3537,"v":775},{"k":"g","t":3542,"v":760},{"k":"g","t":3546,"v":780},
      {"k":"g","t":3550,"v":790},{"k":"g","t":3554,"v":770},{"k":"g","t":3558,"v":760},{"k":"g","t":3562,"v":740},{"k":"g","t":3566,"v":730},{"k":"g","t":3570,"v":740},{"k":"g","t":3574,"v":780},{"k":"g","t":3578,"v":800},{"k":"g","t":3582,"v":815},{"k":"g","t":3588,"v":812},
      {"k":"g","t":3595,"v":808},{"k":"g","t":3600,"v":795},

      {"k":"h","t":3000,"v":795},{"k":"h","t":3004,"v":790},{"k":"h","t":3008,"v":780},{"k":"h","t":3012,"v":760},{"k":"h","t":3015,"v":745},{"k":"h","t":3018,"v":770},{"k":"h","t":3021,"v":790},{"k":"h","t":3024,"v":760},{"k":"h","t":3027,"v":700},{"k":"h","t":3029,"v":660},
      {"k":"h","t":3031,"v":635},{"k":"h","t":3033,"v":700},{"k":"h","t":3035,"v":780},{"k":"h","t":3038,"v":790},{"k":"h","t":3042,"v":785},{"k":"h","t":3047,"v":780},{"k":"h","t":3052,"v":790},{"k":"h","t":3056,"v":780},{"k":"h","t":3059,"v":750},{"k":"h","t":3062,"v":722},
      {"k":"h","t":3064,"v":760},{"k":"h","t":3067,"v":790},{"k":"h","t":3071,"v":800},{"k":"h","t":3076,"v":795},{"k":"h","t":3081,"v":780},{"k":"h","t":3086,"v":760},{"k":"h","t":3090,"v":740},{"k":"h","t":3094,"v":710},{"k":"h","t":3097,"v":690},{"k":"h","t":3099,"v":682},
      {"k":"h","t":3101,"v":730},{"k":"h","t":3103,"v":790},{"k":"h","t":3104,"v":900},{"k":"h","t":3108,"v":900},{"k":"h","t":3109,"v":800},{"k":"h","t":3113,"v":790},{"k":"h","t":3118,"v":800},{"k":"h","t":3123,"v":795},{"k":"h","t":3128,"v":785},{"k":"h","t":3133,"v":770},
      {"k":"h","t":3138,"v":780},{"k":"h","t":3143,"v":800},{"k":"h","t":3148,"v":790},{"k":"h","t":3153,"v":770},{"k":"h","t":3157,"v":750},{"k":"h","t":3160,"v":740},{"k":"h","t":3163,"v":780},{"k":"h","t":3167,"v":800},{"k":"h","t":3170,"v":810},{"k":"h","t":3175,"v":805},
      {"k":"h","t":3180,"v":790},{"k":"h","t":3183,"v":900},{"k":"h","t":3186,"v":900},{"k":"h","t":3187,"v":800},{"k":"h","t":3192,"v":790},{"k":"h","t":3197,"v":770},{"k":"h","t":3202,"v":790},{"k":"h","t":3207,"v":800},{"k":"h","t":3212,"v":790},{"k":"h","t":3217,"v":760},
      {"k":"h","t":3221,"v":740},{"k":"h","t":3224,"v":780},{"k":"h","t":3228,"v":800},{"k":"h","t":3233,"v":790},{"k":"h","t":3238,"v":770},{"k":"h","t":3242,"v":750},{"k":"h","t":3245,"v":780},{"k":"h","t":3249,"v":800},{"k":"h","t":3252,"v":900},{"k":"h","t":3255,"v":900},
      {"k":"h","t":3256,"v":790},{"k":"h","t":3261,"v":770},{"k":"h","t":3266,"v":790},{"k":"h","t":3271,"v":800},{"k":"h","t":3276,"v":780},{"k":"h","t":3280,"v":760},{"k":"h","t":3283,"v":780},{"k":"h","t":3287,"v":800},{"k":"h","t":3292,"v":790},{"k":"h","t":3294,"v":900},
      {"k":"h","t":3296,"v":900},{"k":"h","t":3297,"v":800},{"k":"h","t":3302,"v":790},{"k":"h","t":3307,"v":770},{"k":"h","t":3311,"v":760},{"k":"h","t":3315,"v":790},{"k":"h","t":3320,"v":800},{"k":"h","t":3325,"v":790},{"k":"h","t":3330,"v":770},{"k":"h","t":3334,"v":760},
      {"k":"h","t":3337,"v":780},{"k":"h","t":3340,"v":900},{"k":"h","t":3342,"v":900},{"k":"h","t":3343,"v":800},{"k":"h","t":3348,"v":790},{"k":"h","t":3352,"v":760},{"k":"h","t":3356,"v":740},{"k":"h","t":3359,"v":780},{"k":"h","t":3362,"v":810},{"k":"h","t":3364,"v":900},
      {"k":"h","t":3366,"v":900},{"k":"h","t":3367,"v":805},{"k":"h","t":3372,"v":800},{"k":"h","t":3377,"v":790},{"k":"h","t":3382,"v":780},{"k":"h","t":3387,"v":790},{"k":"h","t":3392,"v":800},{"k":"h","t":3397,"v":795},{"k":"h","t":3402,"v":790},{"k":"h","t":3407,"v":770},
      {"k":"h","t":3411,"v":750},{"k":"h","t":3415,"v":740},{"k":"h","t":3418,"v":780},{"k":"h","t":3422,"v":800},{"k":"h","t":3428,"v":790},{"k":"h","t":3434,"v":780},{"k":"h","t":3440,"v":760},{"k":"h","t":3444,"v":740},{"k":"h","t":3447,"v":780},{"k":"h","t":3451,"v":800},
      {"k":"h","t":3456,"v":790},{"k":"h","t":3460,"v":780},{"k":"h","t":3463,"v":900},{"k":"h","t":3466,"v":900},{"k":"h","t":3467,"v":812},{"k":"h","t":3476,"v":810},{"k":"h","t":3483,"v":808},{"k":"h","t":3487,"v":790},{"k":"h","t":3490,"v":760},{"k":"h","t":3493,"v":720},
      {"k":"h","t":3495,"v":690},{"k":"h","t":3497,"v":720},{"k":"h","t":3499,"v":780},{"k":"h","t":3501,"v":900},{"k":"h","t":3503,"v":900},{"k":"h","t":3504,"v":780},{"k":"h","t":3508,"v":760},{"k":"h","t":3511,"v":730},{"k":"h","t":3514,"v":715},{"k":"h","t":3517,"v":760},
      {"k":"h","t":3520,"v":800},{"k":"h","t":3524,"v":790},{"k":"h","t":3528,"v":770},{"k":"h","t":3532,"v":780},{"k":"h","t":3536,"v":790},{"k":"h","t":3540,"v":775},{"k":"h","t":3544,"v":760},{"k":"h","t":3548,"v":780},{"k":"h","t":3552,"v":790},{"k":"h","t":3556,"v":770},
      {"k":"h","t":3560,"v":750},{"k":"h","t":3564,"v":730},{"k":"h","t":3567,"v":705},{"k":"h","t":3570,"v":720},{"k":"h","t":3573,"v":780},{"k":"h","t":3575,"v":815},{"k":"h","t":3578,"v":820},{"k":"h","t":3581,"v":900},{"k":"h","t":3583,"v":900},{"k":"h","t":3584,"v":815},
      {"k":"h","t":3592,"v":812},{"k":"h","t":3600,"v":808},

      {"k":"i","t":3000,"v":790},{"k":"i","t":3004,"v":785},{"k":"i","t":3008,"v":770},{"k":"i","t":3012,"v":745},{"k":"i","t":3015,"v":730},{"k":"i","t":3018,"v":760},{"k":"i","t":3022,"v":790},{"k":"i","t":3026,"v":795},{"k":"i","t":3031,"v":800},{"k":"i","t":3036,"v":805},
      {"k":"i","t":3040,"v":800},{"k":"i","t":3044,"v":790},{"k":"i","t":3046,"v":900},{"k":"i","t":3049,"v":900},{"k":"i","t":3050,"v":800},{"k":"i","t":3055,"v":795},{"k":"i","t":3060,"v":790},{"k":"i","t":3065,"v":800},{"k":"i","t":3070,"v":805},{"k":"i","t":3075,"v":800},
      {"k":"i","t":3080,"v":790},{"k":"i","t":3085,"v":780},{"k":"i","t":3090,"v":770},{"k":"i","t":3095,"v":790},{"k":"i","t":3100,"v":800},{"k":"i","t":3105,"v":795},{"k":"i","t":3110,"v":780},{"k":"i","t":3115,"v":770},{"k":"i","t":3120,"v":790},{"k":"i","t":3125,"v":800},
      {"k":"i","t":3130,"v":795},{"k":"i","t":3134,"v":900},{"k":"i","t":3138,"v":900},{"k":"i","t":3139,"v":800},{"k":"i","t":3144,"v":790},{"k":"i","t":3149,"v":770},{"k":"i","t":3154,"v":750},{"k":"i","t":3158,"v":760},{"k":"i","t":3162,"v":790},{"k":"i","t":3166,"v":800},
      {"k":"i","t":3168,"v":900},{"k":"i","t":3171,"v":900},{"k":"i","t":3172,"v":795},{"k":"i","t":3177,"v":780},{"k":"i","t":3182,"v":760},{"k":"i","t":3186,"v":780},{"k":"i","t":3191,"v":800},{"k":"i","t":3196,"v":810},{"k":"i","t":3200,"v":805},{"k":"i","t":3204,"v":790},
      {"k":"i","t":3209,"v":770},{"k":"i","t":3213,"v":760},{"k":"i","t":3217,"v":790},{"k":"i","t":3220,"v":900},{"k":"i","t":3223,"v":900},{"k":"i","t":3224,"v":800},{"k":"i","t":3229,"v":790},{"k":"i","t":3234,"v":770},{"k":"i","t":3238,"v":760},{"k":"i","t":3242,"v":790},
      {"k":"i","t":3246,"v":805},{"k":"i","t":3251,"v":810},{"k":"i","t":3256,"v":800},{"k":"i","t":3261,"v":780},{"k":"i","t":3265,"v":760},{"k":"i","t":3268,"v":790},{"k":"i","t":3272,"v":900},{"k":"i","t":3275,"v":900},{"k":"i","t":3276,"v":800},{"k":"i","t":3281,"v":790},
      {"k":"i","t":3286,"v":770},{"k":"i","t":3291,"v":790},{"k":"i","t":3296,"v":805},{"k":"i","t":3301,"v":810},{"k":"i","t":3306,"v":815},{"k":"i","t":3311,"v":805},{"k":"i","t":3316,"v":790},{"k":"i","t":3321,"v":770},{"k":"i","t":3325,"v":740},{"k":"i","t":3328,"v":720},
      {"k":"i","t":3331,"v":760},{"k":"i","t":3334,"v":800},{"k":"i","t":3338,"v":900},{"k":"i","t":3341,"v":900},{"k":"i","t":3342,"v":800},{"k":"i","t":3347,"v":790},{"k":"i","t":3352,"v":770},{"k":"i","t":3357,"v":790},{"k":"i","t":3362,"v":810},{"k":"i","t":3367,"v":815},
      {"k":"i","t":3372,"v":810},{"k":"i","t":3377,"v":800},{"k":"i","t":3382,"v":790},{"k":"i","t":3386,"v":900},{"k":"i","t":3389,"v":900},{"k":"i","t":3390,"v":800},{"k":"i","t":3395,"v":790},{"k":"i","t":3400,"v":780},{"k":"i","t":3405,"v":795},{"k":"i","t":3410,"v":800},
      {"k":"i","t":3414,"v":780},{"k":"i","t":3418,"v":740},{"k":"i","t":3421,"v":700},{"k":"i","t":3424,"v":670},{"k":"i","t":3426,"v":700},{"k":"i","t":3429,"v":760},{"k":"i","t":3433,"v":790},{"k":"i","t":3438,"v":770},{"k":"i","t":3443,"v":750},{"k":"i","t":3446,"v":780},
      {"k":"i","t":3450,"v":800},{"k":"i","t":3455,"v":790},{"k":"i","t":3459,"v":780},{"k":"i","t":3461,"v":900},{"k":"i","t":3470,"v":900},{"k":"i","t":3471,"v":812},{"k":"i","t":3479,"v":812},{"k":"i","t":3486,"v":808},{"k":"i","t":3490,"v":800},{"k":"i","t":3494,"v":780},
      {"k":"i","t":3498,"v":770},{"k":"i","t":3501,"v":900},{"k":"i","t":3505,"v":900},{"k":"i","t":3506,"v":790},{"k":"i","t":3511,"v":780},{"k":"i","t":3515,"v":770},{"k":"i","t":3519,"v":790},{"k":"i","t":3523,"v":800},{"k":"i","t":3528,"v":795},{"k":"i","t":3533,"v":790},
      {"k":"i","t":3537,"v":780},{"k":"i","t":3542,"v":770},{"k":"i","t":3546,"v":750},{"k":"i","t":3550,"v":770},{"k":"i","t":3554,"v":790},{"k":"i","t":3558,"v":775},{"k":"i","t":3562,"v":760},{"k":"i","t":3566,"v":740},{"k":"i","t":3570,"v":720},{"k":"i","t":3572,"v":705},
      {"k":"i","t":3574,"v":740},{"k":"i","t":3577,"v":790},{"k":"i","t":3580,"v":815},{"k":"i","t":3586,"v":812},{"k":"i","t":3594,"v":810},{"k":"i","t":3600,"v":806},

      {"k":"j","t":3000,"v":815},{"k":"j","t":3004,"v":814},{"k":"j","t":3008,"v":812},{"k":"j","t":3011,"v":805},{"k":"j","t":3014,"v":770},{"k":"j","t":3017,"v":725},{"k":"j","t":3019,"v":722},{"k":"j","t":3022,"v":760},{"k":"j","t":3025,"v":800},{"k":"j","t":3030,"v":808},
      {"k":"j","t":3034,"v":810},{"k":"j","t":3038,"v":808},{"k":"j","t":3042,"v":800},{"k":"j","t":3043,"v":900},{"k":"j","t":3046,"v":900},{"k":"j","t":3047,"v":810},{"k":"j","t":3049,"v":790},{"k":"j","t":3050,"v":900},{"k":"j","t":3052,"v":900},{"k":"j","t":3053,"v":800},
      {"k":"j","t":3058,"v":790},{"k":"j","t":3063,"v":780},{"k":"j","t":3068,"v":770},{"k":"j","t":3073,"v":790},{"k":"j","t":3078,"v":800},{"k":"j","t":3083,"v":805},{"k":"j","t":3088,"v":800},{"k":"j","t":3090,"v":900},{"k":"j","t":3093,"v":900},{"k":"j","t":3094,"v":800},
      {"k":"j","t":3099,"v":790},{"k":"j","t":3104,"v":780},{"k":"j","t":3109,"v":770},{"k":"j","t":3114,"v":790},{"k":"j","t":3119,"v":800},{"k":"j","t":3124,"v":790},{"k":"j","t":3128,"v":770},{"k":"j","t":3132,"v":760},{"k":"j","t":3135,"v":790},{"k":"j","t":3138,"v":900},
      {"k":"j","t":3141,"v":900},{"k":"j","t":3142,"v":800},{"k":"j","t":3147,"v":790},{"k":"j","t":3152,"v":770},{"k":"j","t":3157,"v":740},{"k":"j","t":3162,"v":720},{"k":"j","t":3166,"v":700},{"k":"j","t":3169,"v":695},{"k":"j","t":3172,"v":740},{"k":"j","t":3175,"v":800},
      {"k":"j","t":3180,"v":810},{"k":"j","t":3185,"v":800},{"k":"j","t":3187,"v":900},{"k":"j","t":3190,"v":900},{"k":"j","t":3191,"v":800},{"k":"j","t":3196,"v":790},{"k":"j","t":3201,"v":770},{"k":"j","t":3205,"v":750},{"k":"j","t":3209,"v":780},{"k":"j","t":3212,"v":800},
      {"k":"j","t":3215,"v":780},{"k":"j","t":3219,"v":740},{"k":"j","t":3222,"v":710},{"k":"j","t":3225,"v":696},{"k":"j","t":3228,"v":740},{"k":"j","t":3231,"v":790},{"k":"j","t":3235,"v":900},{"k":"j","t":3238,"v":900},{"k":"j","t":3239,"v":810},{"k":"j","t":3244,"v":805},
      {"k":"j","t":3249,"v":790},{"k":"j","t":3254,"v":770},{"k":"j","t":3258,"v":790},{"k":"j","t":3263,"v":800},{"k":"j","t":3266,"v":900},{"k":"j","t":3269,"v":900},{"k":"j","t":3270,"v":800},{"k":"j","t":3275,"v":790},{"k":"j","t":3280,"v":760},{"k":"j","t":3284,"v":745},
      {"k":"j","t":3287,"v":780},{"k":"j","t":3291,"v":800},{"k":"j","t":3296,"v":810},{"k":"j","t":3301,"v":800},{"k":"j","t":3305,"v":780},{"k":"j","t":3309,"v":760},{"k":"j","t":3313,"v":740},{"k":"j","t":3317,"v":780},{"k":"j","t":3321,"v":805},{"k":"j","t":3325,"v":900},
      {"k":"j","t":3328,"v":900},{"k":"j","t":3329,"v":810},{"k":"j","t":3334,"v":800},{"k":"j","t":3339,"v":780},{"k":"j","t":3343,"v":760},{"k":"j","t":3346,"v":790},{"k":"j","t":3350,"v":805},{"k":"j","t":3355,"v":812},{"k":"j","t":3360,"v":810},{"k":"j","t":3365,"v":800},
      {"k":"j","t":3370,"v":795},{"k":"j","t":3375,"v":805},{"k":"j","t":3380,"v":810},{"k":"j","t":3385,"v":805},{"k":"j","t":3390,"v":790},{"k":"j","t":3394,"v":900},{"k":"j","t":3397,"v":900},{"k":"j","t":3398,"v":800},{"k":"j","t":3403,"v":790},{"k":"j","t":3408,"v":780},
      {"k":"j","t":3413,"v":800},{"k":"j","t":3418,"v":810},{"k":"j","t":3423,"v":805},{"k":"j","t":3428,"v":790},{"k":"j","t":3433,"v":760},{"k":"j","t":3436,"v":740},{"k":"j","t":3439,"v":770},{"k":"j","t":3443,"v":790},{"k":"j","t":3448,"v":800},{"k":"j","t":3453,"v":790},
      {"k":"j","t":3457,"v":780},{"k":"j","t":3459,"v":900},{"k":"j","t":3472,"v":900},{"k":"j","t":3473,"v":812},{"k":"j","t":3480,"v":810},{"k":"j","t":3487,"v":806},{"k":"j","t":3491,"v":795},{"k":"j","t":3495,"v":770},{"k":"j","t":3498,"v":760},{"k":"j","t":3500,"v":900},
      {"k":"j","t":3506,"v":900},{"k":"j","t":3507,"v":800},{"k":"j","t":3512,"v":790},{"k":"j","t":3516,"v":780},{"k":"j","t":3517,"v":900},{"k":"j","t":3520,"v":900},{"k":"j","t":3521,"v":805},{"k":"j","t":3526,"v":800},{"k":"j","t":3531,"v":790},{"k":"j","t":3535,"v":780},
      {"k":"j","t":3540,"v":770},{"k":"j","t":3545,"v":760},{"k":"j","t":3549,"v":790},{"k":"j","t":3553,"v":800},{"k":"j","t":3556,"v":900},{"k":"j","t":3559,"v":900},{"k":"j","t":3560,"v":790},{"k":"j","t":3564,"v":760},{"k":"j","t":3567,"v":720},{"k":"j","t":3569,"v":706},
      {"k":"j","t":3571,"v":740},{"k":"j","t":3575,"v":790},{"k":"j","t":3580,"v":900},{"k":"j","t":3584,"v":900},{"k":"j","t":3585,"v":818},{"k":"j","t":3592,"v":812},{"k":"j","t":3600,"v":808}
    ]
  },
  "layer": [
    {
      "data": {"name": "points"},
      "transform": [
        {"lookup": "k", "from": {"data": {"name": "series"}, "key": "k", "fields": ["serie"]}}
      ],
      "mark": {"type": "line", "strokeWidth": 1.3},
      "encoding": {
        "x": {
          "field": "t", "type": "quantitative",
          "scale": {"domain": [2900, 3700], "nice": false, "zero": false},
          "axis": {
            "orient": "bottom",
            "values": [2900, 3000, 3100, 3200, 3300, 3400, 3500, 3600, 3700],
            "format": "d",
            "title": "Instante (segundos)",
            "titleFontSize": 24, "titleFontWeight": "bold", "titleColor": "#000", "titlePadding": 20,
            "labelFontSize": 24, "labelColor": "#000", "labelPadding": 7, "labelFlush": false,
            "tickSize": 9, "tickColor": "#333", "domainColor": "#333",
            "grid": true, "gridDash": [1, 3], "gridColor": "#9a9a9a", "gridOpacity": 1
          }
        },
        "y": {
          "field": "v", "type": "quantitative",
          "scale": {"domain": [600, 950], "nice": false, "zero": false},
          "axis": {
            "orient": "left",
            "values": [600, 650, 700, 750, 800, 850, 900, 950],
            "format": "d",
            "title": "Tensión (Voltios)",
            "titleFontSize": 24, "titleFontWeight": "bold", "titleColor": "#000", "titlePadding": 18,
            "labelFontSize": 24, "labelColor": "#000", "labelPadding": 15, "labelFlush": false,
            "tickSize": 9, "tickColor": "#333", "domainColor": "#333",
            "grid": true, "gridDash": [1, 3], "gridColor": "#9a9a9a", "gridOpacity": 1
          }
        },
        "color": {
          "field": "serie", "type": "nominal",
          "scale": {
            "domain": [
              "S03123200| (12:32:00)", "S03124200| (12:42:00)", "S03125200| (12:52:00)",
              "S04123100| (12:31:00)", "S04124100| (12:41:00)", "S04125100| (12:51:00)",
              "S02124000| (12:40:00)", "S02125000| (12:50:00)", "S01124000| (12:40:00)",
              "S01125000| (12:50:00)"
            ],
            "range": ["#000000", "#ff0000", "#8b0000", "#0000ff", "#00008b", "#008000", "#228b22", "#8a2be2", "#f4a6a6", "#fa8072"]
          },
          "legend": {
            "orient": "none", "legendX": 2, "legendY": -113,
            "title": null, "columns": 3, "direction": "horizontal",
            "symbolType": "M-1.6,0H8.4", "symbolSize": 100, "symbolStrokeWidth": 1.5,
            "labelFontSize": 21.5, "labelColor": "#000", "labelOffset": 46, "labelLimit": 0,
            "columnPadding": 19, "rowPadding": 2, "padding": 0,
            "fillColor": "white", "strokeColor": "#222"
          }
        }
      }
    },
    {
      "data": {"name": "minimo"},
      "mark": {"type": "rule", "color": "#2e2e96", "strokeWidth": 1, "strokeDash": [3, 2]},
      "encoding": {
        "x": {
          "datum": 3000, "type": "quantitative",
          "scale": {"domain": [2900, 3700], "nice": false, "zero": false},
          "axis": {
            "orient": "bottom", "title": null, "labels": false, "domain": false, "grid": false,
            "values": [2900, 2920, 2940, 2960, 2980, 3000, 3020, 3040, 3060, 3080, 3100, 3120, 3140, 3160, 3180, 3200, 3220, 3240, 3260, 3280, 3300, 3320, 3340, 3360, 3380, 3400, 3420, 3440, 3460, 3480, 3500, 3520, 3540, 3560, 3580, 3600, 3620, 3640, 3660, 3680, 3700],
            "tickSize": 10, "offset": -5, "tickColor": "#333"
          }
        },
        "x2": {"datum": 3577},
        "y": {
          "field": "v", "type": "quantitative",
          "scale": {"domain": [600, 950], "nice": false, "zero": false},
          "axis": {
            "orient": "left", "title": null, "labels": false, "domain": false, "grid": false,
            "values": [600, 610, 620, 630, 640, 650, 660, 670, 680, 690, 700, 710, 720, 730, 740, 750, 760, 770, 780, 790, 800, 810, 820, 830, 840, 850, 860, 870, 880, 890, 900, 910, 920, 930, 940, 950],
            "tickSize": 8, "offset": -4, "tickColor": "#333"
          }
        }
      }
    },
    {
      "data": {"name": "minimo"},
      "mark": {"type": "rect", "fill": "white", "stroke": "#333", "strokeWidth": 1},
      "encoding": {
        "x": {
          "datum": 3577, "type": "quantitative",
          "scale": {"domain": [2900, 3700], "nice": false, "zero": false},
          "axis": {
            "orient": "top", "title": null, "labels": false, "domain": false, "grid": false,
            "values": [2900, 2920, 2940, 2960, 2980, 3000, 3020, 3040, 3060, 3080, 3100, 3120, 3140, 3160, 3180, 3200, 3220, 3240, 3260, 3280, 3300, 3320, 3340, 3360, 3380, 3400, 3420, 3440, 3460, 3480, 3500, 3520, 3540, 3560, 3580, 3600, 3620, 3640, 3660, 3680, 3700],
            "tickSize": 5, "offset": -5, "tickColor": "#333"
          }
        },
        "x2": {"datum": 3698},
        "y": {
          "datum": 623, "type": "quantitative",
          "scale": {"domain": [600, 950], "nice": false, "zero": false},
          "axis": {
            "orient": "right", "title": null, "labels": false, "domain": false, "grid": false,
            "values": [600, 610, 620, 630, 640, 650, 660, 670, 680, 690, 700, 710, 720, 730, 740, 750, 760, 770, 780, 790, 800, 810, 820, 830, 840, 850, 860, 870, 880, 890, 900, 910, 920, 930, 940, 950],
            "tickSize": 5, "offset": -5, "tickColor": "#333"
          }
        },
        "y2": {"datum": 640}
      }
    },
    {
      "data": {"name": "minimo"},
      "mark": {"type": "text", "fontSize": 15, "fontStyle": "italic", "color": "#2a2a8c", "align": "center", "baseline": "middle"},
      "encoding": {
        "x": {"datum": 3637.5, "type": "quantitative", "scale": {"domain": [2900, 3700], "nice": false, "zero": false}, "axis": null},
        "y": {"datum": 631.5, "type": "quantitative", "scale": {"domain": [600, 950], "nice": false, "zero": false}, "axis": null},
        "text": {"field": "label"}
      }
    }
  ],
  "resolve": {"scale": {"x": "independent", "y": "independent", "color": "independent"}}
}
